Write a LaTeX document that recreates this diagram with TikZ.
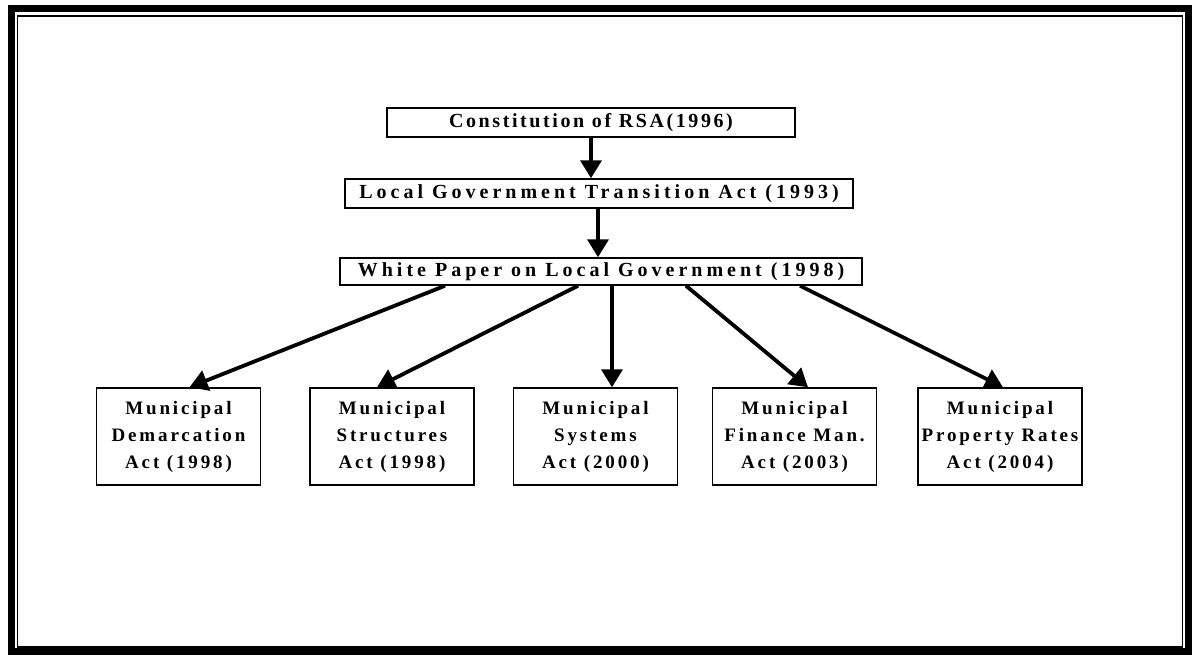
\documentclass[tikz,border=0pt]{standalone}
\usepackage{fontspec}
\setmainfont{Liberation Serif}
\newfontfamily\headfont{Liberation Serif}[LetterSpace=13]
\newfontfamily\wideheadfont{Liberation Serif}[LetterSpace=20]
\newfontfamily\actfont{Liberation Serif}[LetterSpace=15]
\usetikzlibrary{arrows.meta}
\begin{document}
\begin{tikzpicture}[x=1pt,y=-1pt,
  headbox/.style={draw,line width=1.5pt,inner sep=0pt,
    font=\headfont\bfseries\fontsize{20}{24}\selectfont},
  wideheadbox/.style={headbox,font=\wideheadfont\bfseries\fontsize{20}{24}\selectfont},
  actbox/.style={draw,line width=1.5pt,inner sep=0pt,align=center,
    minimum width=164pt,minimum height=97pt,
    font=\actfont\bfseries\fontsize{19}{27}\selectfont},
  arr/.style={line width=3.8pt,-{Triangle[width=21pt,length=18pt]}}]
\useasboundingbox (0,0) rectangle (1194,656);
% double frame round the page
\draw[line width=7pt] (11,8.5) rectangle (1188.5,651.5);
\draw[line width=1.2pt] (17.5,16) rectangle (1182.5,647);
% top chain
\node[headbox,minimum width=408pt,minimum height=29pt] (con) at (591,122.5) {Constitution of RSA(1996)};
\node[wideheadbox,minimum width=508pt,minimum height=29pt] (lgt) at (599,193.5) {Local Government Transition Act (1993)};
\node[wideheadbox,minimum width=522pt,minimum height=27pt] (wp) at (601,271.5) {White Paper on Local Government (1998)};
% the five acts
\node[actbox] (dem) at (178.5,436.5) {Municipal\\Demarcation\\Act (1998)};
\node[actbox] (str) at (392,436.5) {Municipal\\Structures\\Act (1998)};
\node[actbox] (sys) at (595.5,436.5) {Municipal\\Systems\\Act (2000)};
\node[actbox] (fin) at (794.5,436.5) {Municipal\\Finance Man.\\Act (2003)};
\node[actbox] (pro) at (1000,436.5) {Municipal\\Property Rates\\Act (2004)};
% connectors
\draw[arr] ([xshift=0pt]con.south) -- ([xshift=-8pt]lgt.north);
\draw[arr] ([xshift=-1pt]lgt.south) -- ([xshift=-3pt]wp.north);
\draw[arr] ([xshift=-156pt]wp.south) -- ([xshift=11pt]dem.north);
\draw[arr] ([xshift=-23pt]wp.south) -- ([xshift=-15pt]str.north);
\draw[arr] ([xshift=11pt]wp.south) -- ([xshift=16.5pt]sys.north);
\draw[arr] ([xshift=85pt]wp.south) -- ([xshift=13.5pt]fin.north);
\draw[arr] ([xshift=199pt]wp.south) -- ([xshift=3pt]pro.north);
\end{tikzpicture}
\end{document}
